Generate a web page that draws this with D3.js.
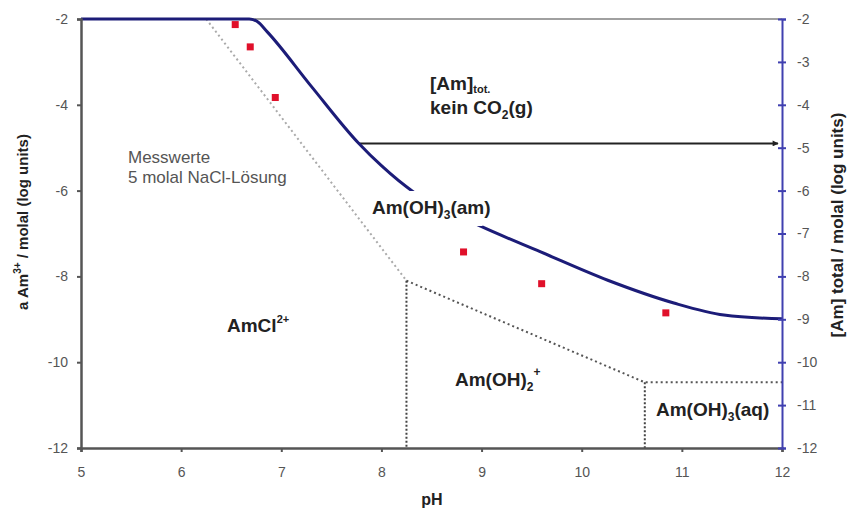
<!DOCTYPE html>
<html><head><meta charset="utf-8">
<script src="https://cdn.jsdelivr.net/npm/d3@7/dist/d3.min.js"></script>
<style>
body{margin:0;background:#fff;}
text{font-family:"Liberation Sans",Arial,sans-serif;}
</style></head>
<body><svg id="c" width="850" height="511"></svg>
<script>
const pHTicks = [5,6,7,8,9,10,11,12];
const leftTicks = [-2,-4,-6,-8,-10,-12];
const rightTicks = [-2,-3,-4,-5,-6,-7,-8,-9,-10,-11,-12];
// [Am]tot, Am(OH)3(am) solubility curve
const curvePH  = [5, 6.68, 6.76, 6.86, 7.3, 7.77, 8.0, 8.32, 8.65, 8.99, 9.59, 10.26, 10.92, 11.42, 12];
const curveLog = [-2, -2, -2.06, -2.3, -3.57, -4.89, -5.42, -6.03, -6.45, -6.83, -7.43, -8.09, -8.62, -8.9, -8.99];
// Messwerte 5 molal NaCl
const measPH  = [6.54, 6.69, 6.94, 8.82, 9.60, 10.84];
const measLog = [-2.13, -2.65, -3.83, -7.43, -8.17, -8.85];
// species boundaries
const bndLightPH = [6.25, 8.25], bndLightLog = [-2, -8.1];
const bndDarkPH = [8.25, 10.63, 12], bndDarkLog = [-8.1, -10.47, -10.47];
const vert1PH = [8.25, 8.25], vert1Log = [-8.1, -12];
const vert2PH = [10.63, 10.63], vert2Log = [-10.47, -12];
const arrowPH = [7.77, 12], arrowLog = [-4.9, -4.9];

const svg = d3.select("#c");
const L = 81, R = 782, T = 19, B = 448;
const x = d3.scaleLinear().domain([5,12]).range([L,R]);
const y = d3.scaleLinear().domain([-2,-12]).range([T,B]);
const fmt = d => String(d);

// top gray line
svg.append("line").attr("x1",x(5)).attr("x2",x(12)).attr("y1",y(-2)).attr("y2",y(-2))
  .attr("stroke","#a0a0a0").attr("stroke-width",2);

const line = d3.line().x(d=>x(d[0])).y(d=>y(d[1]));
const zip = (a,b)=>a.map((v,i)=>[v,b[i]]);

// boundaries
svg.append("path").attr("d",line(zip(bndLightPH,bndLightLog))).attr("fill","none")
  .attr("stroke","#aaa").attr("stroke-width",2).attr("stroke-dasharray","2,3");
svg.append("path").attr("d",line(zip(bndDarkPH,bndDarkLog))).attr("fill","none")
  .attr("stroke","#555").attr("stroke-width",2).attr("stroke-dasharray","2,3");
[[vert1PH,vert1Log],[vert2PH,vert2Log]].forEach(([a,b])=>{
  svg.append("path").attr("d",line(zip(a,b))).attr("fill","none")
    .attr("stroke","#444").attr("stroke-width",2).attr("stroke-dasharray","2,2");
});

// arrow
svg.append("defs").append("marker").attr("id","ah").attr("viewBox","0 0 10 10")
  .attr("refX",9).attr("refY",5).attr("markerWidth",8).attr("markerHeight",6)
  .attr("markerUnits","userSpaceOnUse").attr("orient","auto")
  .append("path").attr("d","M0,0L10,5L0,10Z").attr("fill","#222");
svg.append("line").attr("x1",x(arrowPH[0])).attr("x2",x(arrowPH[1])-4)
  .attr("y1",y(arrowLog[0])).attr("y2",y(arrowLog[1]))
  .attr("stroke","#222").attr("stroke-width",2).attr("marker-end","url(#ah)");

// solubility curve
svg.append("path").attr("d",line.curve(d3.curveMonotoneX)(zip(curvePH,curveLog)))
  .attr("fill","none").attr("stroke","#1c1c78").attr("stroke-width",3);

// points
svg.selectAll("rect.m").data(zip(measPH,measLog)).enter().append("rect").attr("class","m")
  .attr("x",d=>x(d[0])-3.5).attr("y",d=>y(d[1])-3.5).attr("width",7).attr("height",7)
  .attr("fill","#e0102a");

// axes
const gL = svg.append("g").attr("transform",`translate(${L},0)`)
  .call(d3.axisLeft(y).tickValues(leftTicks).tickFormat(fmt).tickSize(4).tickPadding(9));
const gB = svg.append("g").attr("transform",`translate(0,${B})`)
  .call(d3.axisBottom(x).tickValues(pHTicks).tickFormat(fmt).tickSize(4).tickPadding(15));
const gR = svg.append("g").attr("transform",`translate(${R},0)`)
  .call(d3.axisRight(y).tickValues(rightTicks).tickFormat(fmt).tickSize(4).tickPadding(11));
[gL,gB].forEach(g=>{
  g.select(".domain").attr("stroke","#555").attr("stroke-width",2.5);
  g.selectAll(".tick line").attr("stroke","#555").attr("stroke-width",2);
  g.selectAll(".tick text").attr("fill","#555").style("font-size","14px");
});
gR.select(".domain").attr("stroke","#4040b0").attr("stroke-width",2);
gR.selectAll(".tick line").attr("stroke","#4040b0").attr("stroke-width",2).attr("x1",-4);
gR.selectAll(".tick text").attr("fill","#555").style("font-size","14px");

// labels
function lab(xx,yy,opts={}){
  return svg.append("text").attr("x",xx).attr("y",yy)
    .attr("fill",opts.fill||"#222").style("font-size",(opts.size||19)+"px")
    .style("font-weight",opts.weight||"bold");
}
// Am(OH)3(am) with white background
const amLab = lab(372,214);
amLab.append("tspan").text("Am(OH)");
amLab.append("tspan").text("3").attr("dy",5).style("font-size","12px");
amLab.append("tspan").text("(am)").attr("dy",-5);
const bb = amLab.node().getBBox();
svg.append("rect").attr("x",bb.x-4).attr("y",bb.y-6).attr("width",bb.width-4).attr("height",bb.height+10).attr("fill","#fff");
amLab.raise();

const t1 = lab(430,90);
t1.append("tspan").text("[Am]");
t1.append("tspan").text("tot.").attr("dy",3).style("font-size","11px");
const t2 = lab(430,114);
t2.append("tspan").text("kein CO");
t2.append("tspan").text("2").attr("dy",5).style("font-size","12px");
t2.append("tspan").text("(g)").attr("dy",-5);

lab(128,163,{weight:"normal",size:17,fill:"#555"}).text("Messwerte");
lab(128,183,{weight:"normal",size:17,fill:"#555"}).text("5 molal NaCl-Lösung");

const t3 = lab(227,332);
t3.append("tspan").text("AmCl");
t3.append("tspan").text("2+").attr("dy",-9).style("font-size","11px");
const t4 = lab(455,386);
t4.append("tspan").text("Am(OH)");
t4.append("tspan").text("2").attr("dy",5).style("font-size","12px");
t4.append("tspan").text("+").attr("dy",-15).style("font-size","12px");
const t5 = lab(656,416);
t5.append("tspan").text("Am(OH)");
t5.append("tspan").text("3").attr("dy",5).style("font-size","12px");
t5.append("tspan").text("(aq)").attr("dy",-5);

// axis titles
svg.append("text").attr("x",432).attr("y",505).attr("text-anchor","middle")
  .style("font-size","16px").style("font-weight","bold").attr("fill","#222").text("pH");
const yl = svg.append("text").attr("transform","translate(28,222) rotate(-90)").attr("text-anchor","middle")
  .style("font-size","15px").style("font-weight","bold").attr("fill","#222");
yl.append("tspan").text("a Am");
yl.append("tspan").text("3+").attr("dy",-7).style("font-size","10px");
yl.append("tspan").text(" / molal (log units)").attr("dy",7);
svg.append("text").attr("transform","translate(843,225) rotate(-90)").attr("text-anchor","middle")
  .style("font-size","17px").style("font-weight","bold").attr("fill","#222")
  .text("[Am] total / molal (log units)");
</script></body></html>
